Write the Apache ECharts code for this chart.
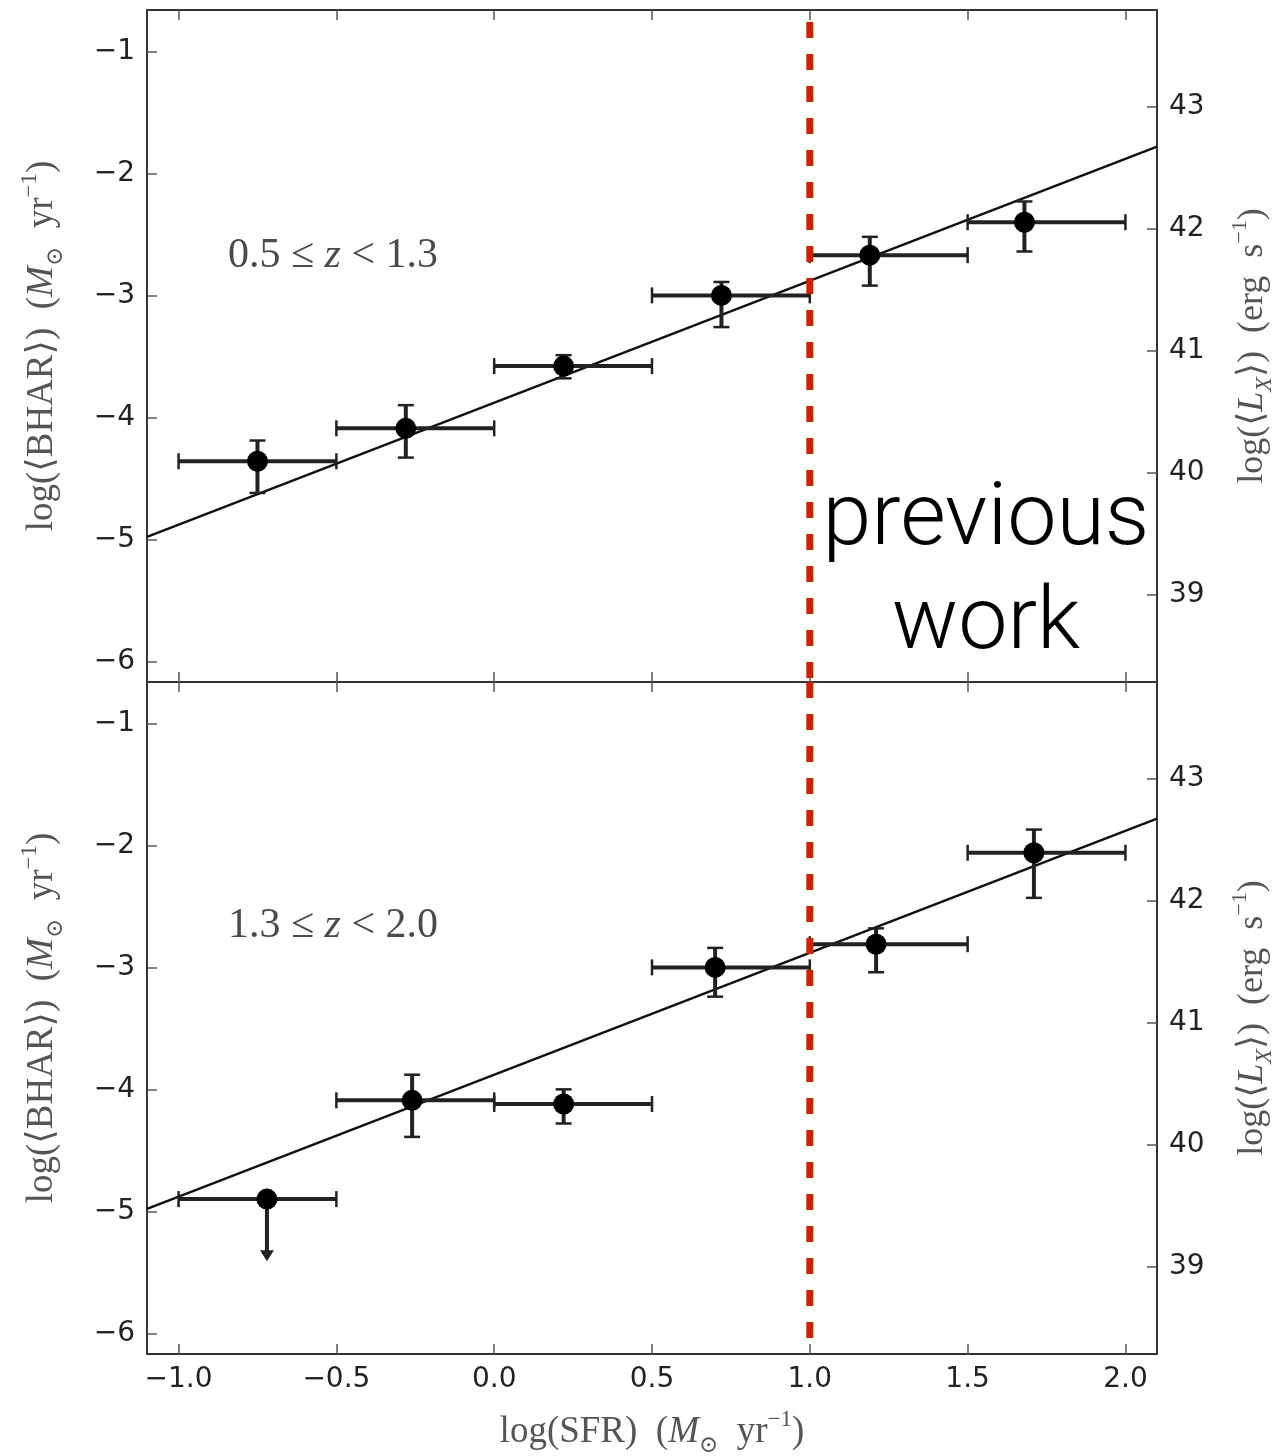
<!DOCTYPE html>
<html><head><meta charset="utf-8">
<script src="https://cdn.jsdelivr.net/npm/echarts@6/dist/echarts.min.js"></script>
<style>html,body{margin:0;padding:0;background:#fff}#c{width:1274px;height:1456px}</style>
</head><body><div id="c"></div>
<script>
// ---------- data ----------
const xTicks = [-1.0, -0.5, 0.0, 0.5, 1.0, 1.5, 2.0];
const yTicks = [-6, -5, -4, -3, -2, -1];
const lxTicks = [39, 40, 41, 42, 43];

// panel 1: 0.5 <= z < 1.3
const p1X   = [-0.75, -0.28, 0.22, 0.72, 1.19, 1.68];
const p1Y   = [-4.36, -4.09, -3.58, -3.00, -2.67, -2.40];
const p1XLo = [-1.0, -0.5, 0.0, 0.5, 1.0, 1.5];
const p1XHi = [-0.5, 0.0, 0.5, 1.0, 1.5, 2.0];
const p1YLo = [-4.62, -4.33, -3.68, -3.26, -2.92, -2.64];
const p1YHi = [-4.19, -3.90, -3.49, -2.89, -2.52, -2.23];
const p1UL  = [0, 0, 0, 0, 0, 0];

// panel 2: 1.3 <= z < 2.0
const p2X   = [-0.72, -0.26, 0.22, 0.70, 1.21, 1.71];
const p2Y   = [-4.90, -4.09, -4.12, -3.00, -2.81, -2.06];
const p2XLo = [-1.0, -0.5, 0.0, 0.5, 1.0, 1.5];
const p2XHi = [-0.5, 0.0, 0.5, 1.0, 1.5, 2.0];
const p2YLo = [-5.41, -4.39, -4.28, -3.24, -3.04, -2.43];
const p2YHi = [-4.90, -3.88, -4.00, -2.84, -2.68, -1.87];
const p2UL  = [1, 0, 0, 0, 0, 0];   // upper limit

// best-fit line
const fitX = [-1.1, 2.1];
const fitY = [-4.98, -1.78];

// previous-work boundary
const refX = 1.0;

const X_MIN = -1.1, X_MAX = 2.1;
const Y_MIN = -6.17, Y_MAX = -0.66;
const LX_OFFSET = 44.455;

// ---------- helpers ----------
const minus = s => String(s).replace('-', '\u2212');
const serif = "'Liberation Serif','DejaVu Serif',serif";
const sans = "'DejaVu Sans',sans-serif";
const TICK_COL = '#555';
const AX_COL = '#333';
const NAME_COL = '#555';

function rows(X, Y, XLo, XHi, YLo, YHi, UL) {
  return X.map((v, i) => [v, Y[i], XLo[i], XHi[i], YLo[i], YHi[i], UL[i]]);
}

function errRender(params, api) {
  const x = api.value(0), y = api.value(1);
  const xlo = api.value(2), xhi = api.value(3);
  const ylo = api.value(4), yhi = api.value(5), ul = api.value(6);
  const c = api.coord([x, y]);
  const pl = api.coord([xlo, y]), ph = api.coord([xhi, y]);
  const pyl = api.coord([x, ylo]), pyh = api.coord([x, yhi]);
  const st = { stroke: '#222', lineWidth: 4 };
  const cap = { stroke: '#222', lineWidth: 2.5 };
  const ch = 8, ch2 = 8;
  const kids = [
    { type: 'line', shape: { x1: pl[0], y1: c[1], x2: ph[0], y2: c[1] }, style: st },
    { type: 'line', shape: { x1: pl[0], y1: c[1] - ch, x2: pl[0], y2: c[1] + ch }, style: cap },
    { type: 'line', shape: { x1: ph[0], y1: c[1] - ch, x2: ph[0], y2: c[1] + ch }, style: cap }
  ];
  if (ul) {
    const tip = pyl[1];
    kids.push({ type: 'line', shape: { x1: c[0], y1: c[1], x2: c[0], y2: tip - 8 }, style: st });
    kids.push({ type: 'polygon', shape: { points: [[c[0] - 7, tip - 11], [c[0] + 7, tip - 11], [c[0], tip]] }, style: { fill: '#222' } });
  } else {
    kids.push({ type: 'line', shape: { x1: c[0], y1: pyh[1], x2: c[0], y2: pyl[1] }, style: st });
    kids.push({ type: 'line', shape: { x1: c[0] - ch2, y1: pyh[1], x2: c[0] + ch2, y2: pyh[1] }, style: cap });
    kids.push({ type: 'line', shape: { x1: c[0] - ch2, y1: pyl[1], x2: c[0] + ch2, y2: pyl[1] }, style: cap });
  }
  return { type: 'group', children: kids };
}

function nameStyle(fs) {
  return {
    fontFamily: serif, fontSize: fs, color: NAME_COL, lineHeight: fs + 12,
    rich: {
      i: { fontFamily: serif, fontStyle: 'italic', fontSize: fs, color: NAME_COL },
      sub: { fontFamily: serif, fontSize: Math.round(fs * 0.62), color: NAME_COL, verticalAlign: 'bottom', lineHeight: 20 },
      isub: { fontFamily: serif, fontStyle: 'italic', fontSize: Math.round(fs * 0.66), color: NAME_COL, verticalAlign: 'bottom', lineHeight: 20 },
      sup: { fontFamily: serif, fontSize: Math.round(fs * 0.62), color: NAME_COL, verticalAlign: 'top', lineHeight: 20 }
    }
  };
}

function xAxisDef(grid, pos, showLabel, name) {
  const a = {
    type: 'value', gridIndex: grid, position: pos, min: X_MIN, max: X_MAX,
    axisLine: { show: true, onZero: false, lineStyle: { color: AX_COL, width: 2 } },
    axisTick: { show: true, inside: true, length: 10, customValues: xTicks, lineStyle: { color: TICK_COL, width: 1.5 } },
    axisLabel: { show: showLabel, customValues: xTicks, margin: 12, fontFamily: sans, fontSize: 28, color: '#222',
                 formatter: v => minus(Number(v).toFixed(1)) },
    splitLine: { show: false }
  };
  if (name) {
    a.name = name; a.nameLocation = 'middle'; a.nameGap = 54; a.nameTextStyle = nameStyle(37);
  }
  return a;
}
function yAxisDef(grid, pos, isLx, name) {
  const ticks = isLx ? lxTicks : yTicks;
  return {
    type: 'value', gridIndex: grid, position: pos,
    min: isLx ? Y_MIN + LX_OFFSET : Y_MIN, max: isLx ? Y_MAX + LX_OFFSET : Y_MAX,
    axisLine: { show: true, onZero: false, lineStyle: { color: AX_COL, width: 2 } },
    axisTick: { show: true, inside: true, length: 10, customValues: ticks, lineStyle: { color: TICK_COL, width: 1.5 } },
    axisLabel: { show: true, customValues: ticks, margin: 12, fontFamily: sans, fontSize: 28, color: '#222',
                 formatter: v => minus(Math.round(v)) },
    splitLine: { show: false },
    name: name, nameLocation: 'middle', nameGap: isLx ? 72 : 80, nameRotate: 90, nameTextStyle: nameStyle(isLx ? 36 : 37)
  };
}

const bharName = 'log(\u27E8BHAR\u27E9)  ({i|M}{sub|\u2299}  yr{sup|\u22121})';
const lxName = 'log(\u27E8{i|L}{isub|X}\u27E9)  (erg  s{sup|\u22121})';
const sfrName = 'log(SFR)  ({i|M}{sub|\u2299}  yr{sup|\u22121})';

function panelSeries(g, rowsData) {
  const xi = g * 2, yi = g * 2;
  return [
    { type: 'line', xAxisIndex: xi, yAxisIndex: yi, data: fitX.map((v, i) => [v, fitY[i]]),
      symbol: 'none', lineStyle: { color: '#111', width: 2.5 }, z: 2, silent: true },
    { type: 'custom', xAxisIndex: xi, yAxisIndex: yi, renderItem: errRender, data: rowsData,
      encode: { x: [0, 2, 3], y: [1, 4, 5] }, z: 3, silent: true },
    { type: 'scatter', xAxisIndex: xi, yAxisIndex: yi, data: rowsData.map(r => [r[0], r[1]]),
      symbol: 'circle', symbolSize: 21, itemStyle: { color: '#000', opacity: 1 }, z: 4, silent: true },
    { type: 'line', xAxisIndex: xi, yAxisIndex: yi,
      data: g === 0 ? [[refX, -0.758], [refX, Y_MIN]] : [[refX, Y_MAX], [refX, -6.094]],
      symbol: 'none', lineStyle: { color: '#cc2200', width: 7, type: [16, 16] }, z: 5, silent: true }
  ];
}

const chart = echarts.init(document.getElementById('c'), null, { renderer: 'canvas' });
chart.setOption({
  animation: false,
  backgroundColor: '#fff',
  grid: [
    { left: 147, right: 117, top: 10, height: 672, containLabel: false, outerBoundsMode: 'none' },
    { left: 147, right: 117, top: 682, height: 672, containLabel: false, outerBoundsMode: 'none' }
  ],
  xAxis: [
    xAxisDef(0, 'bottom', false),
    xAxisDef(0, 'top', false),
    xAxisDef(1, 'bottom', true, sfrName),
    xAxisDef(1, 'top', false)
  ],
  yAxis: [
    yAxisDef(0, 'left', false, bharName),
    yAxisDef(0, 'right', true, lxName),
    yAxisDef(1, 'left', false, bharName),
    yAxisDef(1, 'right', true, lxName)
  ],
  series: [
    ...panelSeries(0, rows(p1X, p1Y, p1XLo, p1XHi, p1YLo, p1YHi, p1UL)),
    ...panelSeries(1, rows(p2X, p2Y, p2XLo, p2XHi, p2YLo, p2YHi, p2UL))
  ],
  graphic: [
    { type: 'text', left: 228, top: 235, z: 10, style: {
      text: '0.5 \u2264 {i|z} < 1.3', fontFamily: serif, fontSize: 42, fill: '#4a4a4a',
      rich: { i: { fontFamily: serif, fontStyle: 'italic', fontSize: 42, color: '#4a4a4a' } } } },
    { type: 'text', left: 228, top: 905, z: 10, style: {
      text: '1.3 \u2264 {i|z} < 2.0', fontFamily: serif, fontSize: 42, fill: '#4a4a4a',
      rich: { i: { fontFamily: serif, fontStyle: 'italic', fontSize: 42, color: '#4a4a4a' } } } },
    { type: 'text', x: 986, y: 522, z: 20, style: {
      text: 'previous', fontFamily: 'Roboto, sans-serif', fontWeight: 300, fontSize: 88,
      fill: '#000', textAlign: 'center', textVerticalAlign: 'middle' } },
    { type: 'text', x: 986, y: 626, z: 20, style: {
      text: 'work', fontFamily: 'Roboto, sans-serif', fontWeight: 300, fontSize: 88,
      fill: '#000', textAlign: 'center', textVerticalAlign: 'middle' } }
  ]
});
</script>
</body></html>
